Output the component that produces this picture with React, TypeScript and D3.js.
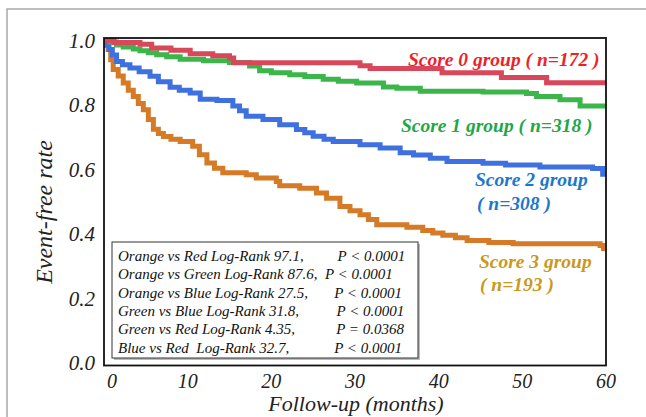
import { useEffect, useRef } from 'react'
import * as d3 from 'd3'

// Kaplan-Meier steps: [months, event-free rate]
const score0: [number, number][] = [
  [0, 1], [1.2, 0.994], [4.3, 0.988], [5.7, 0.977], [8, 0.97], [10.3, 0.959],
  [13, 0.953], [15, 0.946], [15.5, 0.931], [30.6, 0.922], [31.8, 0.913],
  [40.4, 0.9], [47.5, 0.885], [52.9, 0.869], [60, 0.869],
]

const score1: [number, number][] = [
  [0, 1], [0.7, 0.995], [1.5, 0.986], [2.3, 0.98], [3.5, 0.974], [4.3, 0.968],
  [5.3, 0.962], [6.3, 0.956], [7.5, 0.95], [9.1, 0.942], [11.9, 0.937],
  [15, 0.932], [17.4, 0.921], [18.6, 0.906], [20, 0.9], [22.2, 0.894],
  [24, 0.888], [26.2, 0.88], [28, 0.874], [30.2, 0.868], [33.4, 0.856],
  [35, 0.852], [37.8, 0.843], [45.3, 0.84], [50.5, 0.836], [51.7, 0.826],
  [54.5, 0.816], [56.9, 0.797], [60, 0.797],
]

const score2: [number, number][] = [
  [0, 1], [0.3, 0.985], [0.6, 0.972], [1, 0.955], [1.5, 0.935], [2.2, 0.925],
  [3.1, 0.915], [4.2, 0.903], [5.5, 0.889], [6.5, 0.872], [7.9, 0.855],
  [9, 0.846], [10.3, 0.837], [11.5, 0.818], [13.5, 0.814], [15.4, 0.797],
  [16.2, 0.782], [17, 0.765], [19, 0.755], [21, 0.739], [23, 0.724],
  [24, 0.714], [25, 0.703], [26.3, 0.694], [27.4, 0.687], [30.6, 0.677],
  [33, 0.667], [35.4, 0.652], [37, 0.645], [39, 0.635], [41, 0.625],
  [45.3, 0.619], [48, 0.614], [52.1, 0.608], [58.4, 0.603], [59.6, 0.585],
  [60, 0.585],
]

const score3: [number, number][] = [
  [0, 1], [0.3, 0.985], [0.5, 0.972], [0.8, 0.94], [1.1, 0.91], [1.7, 0.89],
  [2.3, 0.868], [2.9, 0.846], [3.5, 0.826], [4.1, 0.805], [4.7, 0.785],
  [5.3, 0.755], [5.9, 0.725], [6.5, 0.712], [7.1, 0.702], [8, 0.694],
  [9.1, 0.687], [10.6, 0.672], [11.4, 0.646], [12.3, 0.62], [13.2, 0.604],
  [14.2, 0.59], [17, 0.584], [18.2, 0.574], [20.6, 0.563], [21, 0.55],
  [23.4, 0.542], [25.4, 0.527], [26.6, 0.511], [28.2, 0.485], [29.4, 0.472],
  [30.6, 0.46], [31.6, 0.445], [32.6, 0.429], [36.2, 0.421], [38.1, 0.411],
  [39.3, 0.403], [40.5, 0.396], [42, 0.388], [43.4, 0.38], [46, 0.374],
  [48.9, 0.37], [59.3, 0.364], [59.7, 0.355], [60, 0.355],
]

const xTicks = [0, 10, 20, 30, 40, 50, 60]
const yTicks = [0, 0.2, 0.4, 0.6, 0.8, 1.0]

const groups = [
  { name: 'Score 3', data: score3, line: '#d57a26' },
  { name: 'Score 2', data: score2, line: '#3e70e0' },
  { name: 'Score 1', data: score1, line: '#3cb54a' },
  { name: 'Score 0', data: score0, line: '#d9475b' },
]

const logRankRows = [
  'Orange vs Red Log-Rank 97.1,         P < 0.0001',
  'Orange vs Green Log-Rank 87.6,  P < 0.0001',
  'Orange vs Blue Log-Rank 27.5,       P < 0.0001',
  'Green vs Blue Log-Rank 31.8,          P < 0.0001',
  'Green vs Red Log-Rank 4.35,           P = 0.0368',
  'Blue vs Red  Log-Rank 32.7,            P < 0.0001',
]

const W = 646
const H = 417

export default function App() {
  const svgRef = useRef<SVGSVGElement>(null)

  useEffect(() => {
    if (!svgRef.current) return
    const svg = d3.select(svgRef.current)
    svg.selectAll('*').remove()

    const left = 104
    const right = 606
    const top = 38
    const bottom = 365.5

    const x = d3.scaleLinear().domain([0, 60]).range([left, right])
    const y = d3.scaleLinear().domain([0, 1]).range([363, 40.5])

    const serif = "'Liberation Serif', 'Times New Roman', serif"

    // outer frame (only top and left edges visible)
    svg.append('rect')
      .attr('x', 7).attr('y', 9)
      .attr('width', 800).attr('height', 600)
      .attr('fill', 'white')
      .attr('stroke', '#a8a8a8')
      .attr('stroke-width', 1.5)

    // curves
    const line = d3.line<[number, number]>()
      .x(d => x(d[0]))
      .y(d => y(d[1]))
      .curve(d3.curveStepAfter)

    groups.forEach(g => {
      svg.append('path')
        .datum(g.data)
        .attr('d', line)
        .attr('fill', 'none')
        .attr('stroke', g.line)
        .attr('stroke-width', 5)
    })

    // plot frame
    svg.append('rect')
      .attr('x', left).attr('y', top)
      .attr('width', right - left).attr('height', bottom - top)
      .attr('fill', 'none')
      .attr('stroke', '#111')
      .attr('stroke-width', 1.8)

    // y tick labels
    svg.append('g').selectAll('text')
      .data(yTicks)
      .enter()
      .append('text')
      .attr('x', 95)
      .attr('y', d => y(d) + 7)
      .attr('text-anchor', 'end')
      .style('font-family', serif)
      .style('font-style', 'italic')
      .style('font-size', '21px')
      .attr('fill', '#222')
      .text(d => d.toFixed(1))

    // x tick labels
    svg.append('g').selectAll('text')
      .data(xTicks)
      .enter()
      .append('text')
      .attr('x', d => x(d) + (d === 0 ? 8 : 0))
      .attr('y', 388)
      .attr('text-anchor', 'middle')
      .style('font-family', serif)
      .style('font-style', 'italic')
      .style('font-size', '20px')
      .attr('fill', '#222')
      .text(d => String(d))

    // axis titles
    svg.append('text')
      .attr('x', 356).attr('y', 411)
      .attr('text-anchor', 'middle')
      .style('font-family', serif)
      .style('font-style', 'italic')
      .style('font-size', '22px')
      .attr('fill', '#222')
      .text('Follow-up (months)')

    svg.append('text')
      .attr('transform', 'translate(52,212) rotate(-90)')
      .attr('text-anchor', 'middle')
      .style('font-family', serif)
      .style('font-style', 'italic')
      .style('font-size', '24px')
      .attr('fill', '#222')
      .text('Event-free rate')

    // group labels
    const label = (tx: number, ty: number, txt: string, color: string) => {
      svg.append('text')
        .attr('x', tx).attr('y', ty)
        .style('font-family', serif)
        .style('font-style', 'italic')
        .style('font-weight', 'bold')
        .style('font-size', '19.5px')
        .attr('fill', color)
        .text(txt)
    }
    label(408, 66, 'Score 0 group ( n=172 )', '#f01e28')
    label(401, 132, 'Score 1 group ( n=318 )', '#20a847')
    label(475, 186, 'Score 2 group', '#1a78cc')
    label(477, 210, '( n=308 )', '#1a78cc')
    label(479, 268, 'Score 3 group', '#c9981c')
    label(480, 291, '( n=193 )', '#c9981c')

    // log-rank box
    const bx = 112, by = 242, bw = 306, bh = 116
    svg.append('rect')
      .attr('x', bx + 2).attr('y', by + 2)
      .attr('width', bw).attr('height', bh)
      .attr('fill', '#bbb')
    svg.append('rect')
      .attr('x', bx).attr('y', by)
      .attr('width', bw).attr('height', bh)
      .attr('fill', 'white')
      .attr('stroke', '#333')
      .attr('stroke-width', 1)

    svg.append('g').selectAll('text')
      .data(logRankRows)
      .enter()
      .append('text')
      .attr('x', 118)
      .attr('y', (d, i) => 261 + i * 18.3)
      .attr('xml:space', 'preserve')
      .style('white-space', 'pre')
      .style('font-family', serif)
      .style('font-style', 'italic')
      .style('font-size', '15px')
      .attr('fill', '#111')
      .text(d => d)
  }, [])

  return (
    <svg
      ref={svgRef}
      width={W}
      height={H}
      style={{ position: 'absolute', left: 0, top: 0, background: 'white' }}
    />
  )
}
